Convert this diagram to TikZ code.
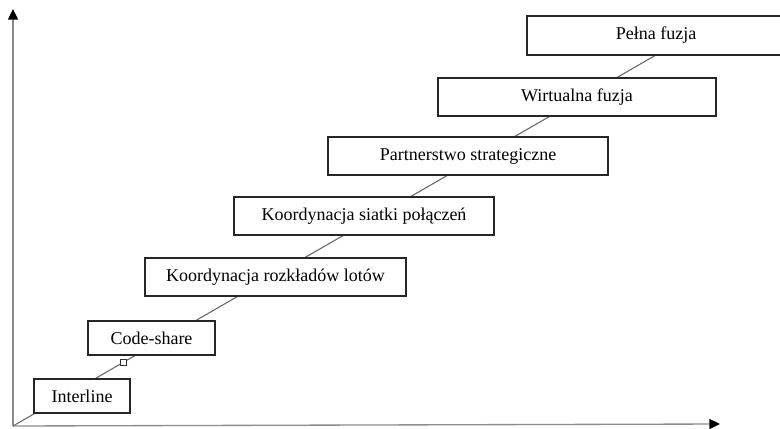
\documentclass[tikz,border=0pt]{standalone}
\usepackage{fontspec}
\setmainfont{Liberation Serif}
\usetikzlibrary{positioning,arrows.meta}

\begin{document}
\begin{tikzpicture}[x=0.75pt,y=-0.75pt]
\tikzstyle{stage}=[rectangle, draw=black!85, line width=1pt, fill=white, inner sep=0pt, font=\fontsize{13.5}{15}\selectfont]
\tikzstyle{boxsize}=[minimum width=#1*0.75pt, minimum height=38*0.75pt]
\tikzstyle{axis}=[draw=black!45, line width=1pt, -{Triangle[black,length=8pt,width=7.5pt]}]
\tikzstyle{stair}=[draw=black!60, line width=0.8pt]
\tikzstyle{marker}=[rectangle, draw=black!80, fill=white, line width=0.6pt, minimum size=4.5pt, inner sep=0pt]
  \useasboundingbox (0,0) rectangle (780,428);
  \coordinate (origin) at (13,426);
  \coordinate (ytip) at (13,9);
  \coordinate (xtip) at (720,424);
  \coordinate (top) at (656,55);
  \path (origin) edge [axis] (ytip)
        (origin) edge [axis] (xtip);
  \draw[stair] (origin) -- node[marker, pos=0.172] (mark) {} (top);
  \node[stage, boxsize=96, minimum height=34*0.75pt] (interline) at (82,396) {Interline};
  \node[stage, boxsize=127, minimum height=34*0.75pt] (codeshare) at (151.5,338) {Code-share};
  \node[stage, boxsize=261] (rozklad) at (275.5,277) {Koordynacja rozkładów lotów};
  \node[stage, boxsize=260] (siatka) at (364,216) {Koordynacja siatki połączeń};
  \node[stage, boxsize=280] (partner) at (468,156) {Partnerstwo strategiczne};
  \node[stage, boxsize=278] (wirtual) at (577,97) {Wirtualna fuzja};
  \node[stage, boxsize=258, minimum height=39*0.75pt] (pelna) at (656,35.5) {Pełna fuzja};
\end{tikzpicture}
\end{document}
